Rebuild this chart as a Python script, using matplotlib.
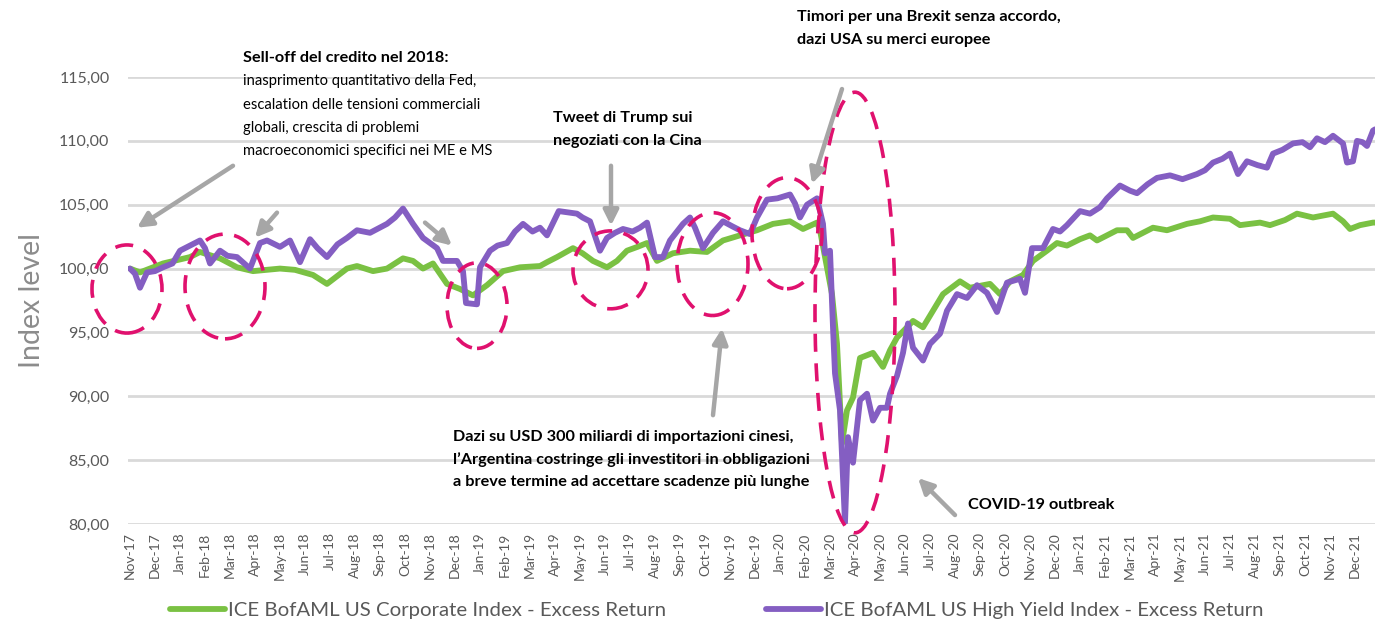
import numpy as np
import pandas as pd
import matplotlib
matplotlib.use("Agg")
import matplotlib.pyplot as plt
from matplotlib.patches import Ellipse

plt.rcParams['font.family'] = ['Lato', 'DejaVu Sans']

# months since 1 Nov 2017, index level
hy_t = [0.0, 0.2, 0.4, 0.68, 1.0, 1.32, 1.7, 2.0, 2.4, 2.8, 3.0, 3.2, 3.6, 3.9, 4.28, 4.8, 5.2,
        5.48, 6.0, 6.4, 6.8, 7.2, 7.5, 7.88, 8.3, 8.68, 9.08, 9.6, 10.28, 10.6, 10.92, 11.32,
        11.72, 12.28, 12.52, 13.08, 13.32, 13.44, 13.88, 14.0, 14.4, 14.7, 15.08, 15.4, 15.72,
        16.1, 16.4, 16.68, 17.15, 17.5, 17.88, 18.1, 18.4, 18.8, 19.08, 19.4, 19.72, 20.1,
        20.4, 20.68, 21.0, 21.32, 21.6, 22.12, 22.4, 22.6, 22.92, 23.32, 23.72, 24.1, 24.4,
        24.8, 25.08, 25.48, 25.9, 26.4, 26.6, 26.8, 27.08, 27.48, 27.72, 27.8, 28.0, 28.12,
        28.2, 28.4, 28.6, 28.72, 28.92, 29.08, 29.2, 29.48, 29.72, 30.0, 30.28, 30.4, 30.68,
        30.92, 31.12, 31.32, 31.72, 32.0, 32.4, 32.68, 33.08, 33.48, 33.88, 34.28, 34.68,
        35.08, 35.6, 35.8, 36.08, 36.52, 36.92, 37.2, 37.48, 38.0, 38.4, 38.8, 39.08, 39.6,
        40.0, 40.28, 40.7, 41.08, 41.6, 42.1, 42.68, 43.0, 43.32, 43.7, 44.0, 44.32, 44.68,
        45.1, 45.48, 45.72, 46.1, 46.52, 46.9, 47.2, 47.48, 47.8, 48.12, 48.52, 48.68, 48.92,
        49.08, 49.3, 49.48, 49.72, 49.8]
hy_v = [100.0, 99.6, 98.5, 99.7, 99.8, 100.1, 100.4, 101.4, 101.8, 102.2, 101.6, 100.4, 101.4,
        101.0, 100.9, 100.0, 102.0, 102.2, 101.7, 102.2, 100.5, 102.3, 101.6, 100.9, 101.9,
        102.4, 103.0, 102.8, 103.5, 104.0, 104.7, 103.5, 102.4, 101.6, 100.6, 100.6, 99.8,
        97.3, 97.2, 100.1, 101.4, 101.8, 102.0, 102.9, 103.5, 102.9, 103.2, 102.6, 104.5,
        104.4, 104.3, 104.0, 103.7, 101.4, 102.4, 102.8, 103.1, 102.9, 103.2, 103.6, 100.9,
        100.9, 102.2, 103.5, 104.0, 103.2, 101.6, 102.8, 103.7, 103.3, 103.0, 102.7, 104.0,
        105.4, 105.5, 105.8, 105.1, 104.0, 105.0, 105.5, 103.5, 101.2, 101.4, 95.4, 91.8,
        88.9, 80.1, 86.8, 84.8, 87.6, 89.7, 90.2, 88.1, 89.1, 89.1, 90.2, 91.6, 93.4, 95.7,
        93.8, 92.8, 94.1, 94.9, 96.7, 98.0, 97.7, 98.7, 98.1, 96.6, 98.9, 99.2, 98.1, 101.6,
        101.6, 103.1, 102.9, 103.4, 104.5, 104.3, 104.8, 105.5, 106.5, 106.1, 105.9, 106.6,
        107.1, 107.3, 107.0, 107.4, 107.7, 108.3, 108.6, 109.0, 107.4, 108.4, 108.1, 107.9,
        109.0, 109.3, 109.8, 109.9, 109.5, 110.2, 109.9, 110.4, 109.8, 108.3, 108.4, 110.0,
        109.9, 109.6, 110.8, 110.9]

ig_t = [0.0, 0.4, 1.32, 2.4, 2.8, 3.6, 4.28, 4.92, 6.0, 6.6, 7.32, 7.88, 8.68, 9.08, 9.72,
        10.28, 10.92, 11.32, 11.72, 12.12, 12.68, 13.2, 13.72, 14.28, 14.92, 15.6, 16.4, 16.68,
        17.08, 17.72, 18.1, 18.52, 19.08, 19.48, 19.88, 20.3, 20.68, 21.08, 21.72, 22.4, 23.08,
        23.72, 24.4, 25.08, 25.72, 26.4, 26.92, 27.48, 27.6, 28.08, 28.28, 28.48, 28.68, 28.92,
        29.2, 29.72, 30.12, 30.4, 30.68, 31.08, 31.32, 31.72, 32.12, 32.52, 33.2, 33.6, 34.4,
        34.8, 35.2, 35.72, 36.12, 36.68, 37.08, 37.48, 38.0, 38.4, 38.68, 39.48, 39.88, 40.12,
        40.92, 41.48, 42.28, 42.8, 43.32, 44.0, 44.4, 45.2, 45.6, 46.2, 46.68, 47.32, 48.12,
        48.52, 48.8, 49.2, 49.72, 49.8]
ig_v = [100.0, 99.7, 100.4, 100.9, 101.3, 100.8, 100.1, 99.8, 100.0, 99.9, 99.5, 98.8, 100.0,
        100.2, 99.8, 100.0, 100.8, 100.6, 100.0, 100.4, 98.8, 98.4, 97.9, 98.7, 99.8, 100.1,
        100.2, 100.5, 100.9, 101.6, 101.2, 100.6, 100.1, 100.6, 101.4, 101.7, 102.0, 100.6,
        101.2, 101.4, 101.3, 102.2, 102.6, 103.0, 103.5, 103.7, 103.1, 103.6, 103.0, 98.0,
        94.1, 86.3, 88.9, 89.9, 93.0, 93.4, 92.3, 93.6, 94.6, 95.4, 95.9, 95.4, 96.7, 98.0,
        99.0, 98.5, 98.8, 98.0, 99.0, 99.5, 100.6, 101.4, 102.0, 101.8, 102.3, 102.6, 102.2,
        103.0, 103.0, 102.4, 103.2, 103.0, 103.5, 103.7, 104.0, 103.9, 103.4, 103.6, 103.4,
        103.8, 104.3, 104.0, 104.3, 103.7, 103.1, 103.4, 103.6, 103.6]

month_labels = list(pd.date_range('2017-11-01', '2021-12-01', freq='MS').strftime('%b-%y'))

ig_label = 'ICE BofAML US Corporate Index - Excess Return'
hy_label = 'ICE BofAML US High Yield Index - Excess Return'

green = '#7AC143'
purple = '#845EC2'
pink = '#E0116E'
arrow_grey = '#A6A6A6'
text_grey = '#595959'

fig = plt.figure(figsize=(13.76, 6.2), dpi=100)
ax = fig.add_axes([127.5 / 1376, 1 - 524 / 620, (1375 - 127.5) / 1376, (524 - 77) / 620])

ax.plot(ig_t, ig_v, color=green, lw=4.2, solid_joinstyle='round', solid_capstyle='round',
        label=ig_label, zorder=3)
ax.plot(hy_t, hy_v, color=purple, lw=4.2, solid_joinstyle='round', solid_capstyle='round',
        label=hy_label, zorder=4)

ax.set_xlim(-0.1, 49.8)
ax.set_ylim(80, 115)
ax.set_yticks(np.arange(80, 116, 5))
ax.set_yticklabels([f'{v:.2f}'.replace('.', ',') for v in np.arange(80, 116, 5)],
                   fontsize=11.5, color=text_grey)
ax.set_xticks(range(len(month_labels)))
ax.set_xticklabels(month_labels, rotation=90, fontsize=10, color=text_grey)
ax.tick_params(axis='both', length=0, pad=6)
ax.tick_params(axis='y', pad=13)
ax.grid(axis='y', color='#D9D9D9', lw=2)
ax.set_axisbelow(True)
for s in ax.spines.values():
    s.set_visible(False)
ax.set_ylabel('Index level', fontsize=20.5, color='#8C8C8C', labelpad=10)

# dashed ellipses (centre month, centre level, width, height)
ellipses = [(-0.12, 98.4, 2.8, 6.9), (3.8, 98.6, 3.2, 8.2), (13.88, 97.1, 2.4, 6.7),
            (19.22, 99.9, 3.0, 6.1), (23.3, 100.35, 2.84, 8.05), (26.28, 102.77, 2.8, 8.7),
            (29.0, 96.56, 3.2, 34.5)]
for cx, cy, w, h in ellipses:
    e = Ellipse((cx, cy), w, h, fill=False, edgecolor=pink, lw=2.6, ls=(0, (5, 3.2)),
                clip_on=False, zorder=6)
    ax.add_patch(e)

# arrows (tail -> head)
arrows = [((4.12, 108.05), (0.28, 103.2)), ((5.88, 104.38), (5.0, 102.42)),
          ((11.8, 103.6), (12.88, 101.8)), ((19.24, 108.05), (19.24, 103.36)),
          ((23.32, 88.52), (23.68, 95.31)), ((28.48, 114.06), (27.28, 106.64)),
          ((33.0, 80.7), (31.52, 83.6))]
for tail, head in arrows:
    ax.annotate('', xy=head, xytext=tail, annotation_clip=False,
                arrowprops=dict(arrowstyle='-|>,head_length=0.9,head_width=0.45',
                                color=arrow_grey, lw=3.2, shrinkA=0, shrinkB=0), zorder=7)

def ftext(x, y, s, bold=False):
    fig.text(x / 1376, 1 - y / 620, s, va='center', ha='left',
             fontsize=11.7 if bold else 10.6, fontweight='bold' if bold else 'normal',
             color='black')

ftext(243, 58, 'Sell-off del credito nel 2018:', bold=True)
ftext(243, 81, 'inasprimento quantitativo della Fed,')
ftext(243, 105, 'escalation delle tensioni commerciali')
ftext(243, 128, 'globali, crescita di problemi')
ftext(243, 151, 'macroeconomici specifici nei ME e MS')
ftext(553, 118, 'Tweet di Trump sui', bold=True)
ftext(553, 141, 'negoziati con la Cina', bold=True)
ftext(797, 17, 'Timori per una Brexit senza accordo,', bold=True)
ftext(797, 40, 'dazi USA su merci europee', bold=True)
ftext(453, 437, 'Dazi su USD 300 miliardi di importazioni cinesi,', bold=True)
ftext(453, 460, 'l’Argentina costringe gli investitori in obbligazioni', bold=True)
ftext(453, 482, 'a breve termine ad accettare scadenze più lunghe', bold=True)
ftext(968, 505, 'COVID-19 outbreak', bold=True)

fig.legend(loc='center', bbox_to_anchor=(0.521, 1 - 610 / 620), ncol=2, frameon=False,
           fontsize=14.7, handlelength=2.7, columnspacing=4.9, handletextpad=0.15,
           labelcolor=text_grey)

fig.savefig('out.png', dpi=100)
